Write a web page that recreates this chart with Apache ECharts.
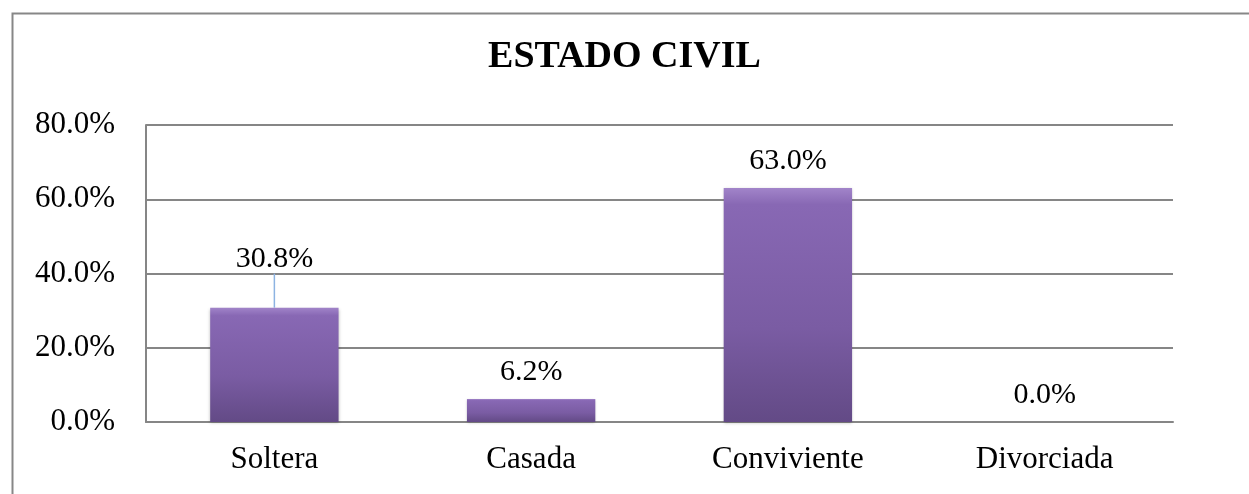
<!DOCTYPE html>
<html lang="es">
<head>
<meta charset="utf-8" />
<title>Estado civil</title>
<style type="text/css">
    html, body { margin: 0; padding: 0; background: #fff; }
    #chart { width: 1249px; height: 494px; }
</style>
</head>
<body>
<div id="chart"></div>
<script src="https://cdn.jsdelivr.net/npm/echarts@6/dist/echarts.min.js"></script>
<script>
    // datos
    const categorias = ['Soltera', 'Casada', 'Conviviente', 'Divorciada'];
    const porcentajes = [30.8, 6.2, 63.0, 0.0];
    const ejeY = { min: 0, max: 80, interval: 20 };

    const serif = "'Liberation Serif', 'Times New Roman', serif";
    const pct = (v) => Number(v).toFixed(1) + '%';

    // la etiqueta de Soltera esta desplazada hacia arriba con linea guia
    const INDICE_GUIA = 0;

    let chart = echarts.init(document.querySelector('#chart'), null, { renderer: 'canvas' });

    const barras = porcentajes.map((v, i) => ({
        value: v,
        labelLine: { show: i === INDICE_GUIA }
    }));

    const option = {
        animation: false,
        backgroundColor: '#fff',
        title: {
            text: 'ESTADO CIVIL',
            left: 'center',
            top: 33,
            textStyle: { fontFamily: serif, fontSize: 38, fontWeight: 'bold', color: '#000' }
        },
        // marco exterior del grafico
        graphic: [{
            type: 'rect',
            left: 10,
            top: 11,
            shape: { width: 1300, height: 600 },
            style: { fill: 'none', stroke: '#878787', lineWidth: 2 },
            silent: true
        }],
        grid: { left: 146, right: 76, top: 125, bottom: 72, containLabel: false },
        xAxis: {
            type: 'category',
            data: categorias,
            axisLine: { show: true, lineStyle: { color: '#868686', width: 2 } },
            axisTick: { show: false },
            axisLabel: { fontFamily: serif, fontSize: 31, color: '#000', margin: 22 }
        },
        yAxis: {
            type: 'value',
            min: ejeY.min,
            max: ejeY.max,
            interval: ejeY.interval,
            axisLine: { show: true, lineStyle: { color: '#868686', width: 2 } },
            axisTick: { show: false },
            splitLine: { lineStyle: { color: '#868686', width: 2 } },
            axisLabel: { fontFamily: serif, fontSize: 31, color: '#000', margin: 31, formatter: pct }
        },
        series: [{
            type: 'bar',
            data: barras,
            barWidth: '50%',
            itemStyle: {
                color: new echarts.graphic.LinearGradient(0, 0, 0, 1, [
                    { offset: 0, color: '#a184c9' },
                    { offset: 0.07, color: '#8868b4' },
                    { offset: 0.6, color: '#7a5ca3' },
                    { offset: 1, color: '#634a86' }
                ]),
                borderWidth: 0,
                shadowColor: 'rgba(0,0,0,0.25)',
                shadowBlur: 3,
                shadowOffsetY: 1
            },
            label: {
                show: true,
                position: 'top',
                distance: 12,
                fontFamily: serif,
                fontSize: 30,
                color: '#000',
                formatter: (p) => pct(p.value)
            },
            labelLayout: (params) => {
                if (params.dataIndex === INDICE_GUIA) return { dy: -22 };
                return {};
            },
            labelLine: { show: false, lineStyle: { color: '#8db3e2', width: 1.5 } }
        }]
    };

    chart.setOption(option);
</script>
</body>
</html>
